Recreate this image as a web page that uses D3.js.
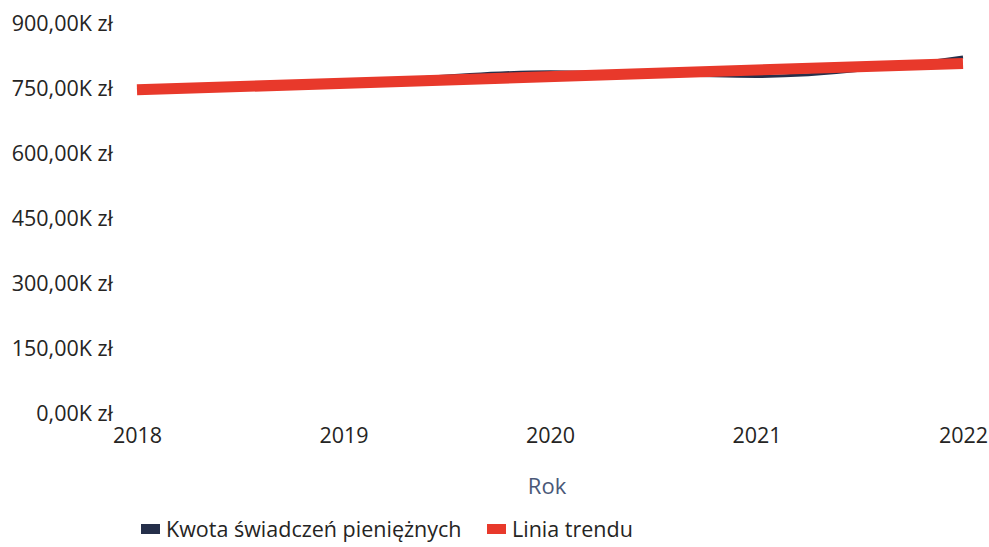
<!DOCTYPE html>
<html><head><meta charset="utf-8">
<script src="https://cdn.jsdelivr.net/npm/d3@7"></script>
<style>
html,body{margin:0;padding:0;background:#fff;}
svg{display:block;font-family:"Open Sans",sans-serif;}
</style></head>
<body>
<svg id="c" width="989" height="547"></svg>
<script>
const years = [2018, 2019, 2020, 2021, 2022];
const amounts = [748, 765, 790, 779, 824]; // thousands zł
const trendYears = [2018, 2022];
const trendValues = [748, 809];
const yTicks = [0, 150, 300, 450, 600, 750, 900];
const seriesNames = ["Kwota świadczeń pieniężnych", "Linia trendu"];
const colors = ["#252f4a", "#e8392b"];

const svg = d3.select("#c");
const x = d3.scalePoint().domain(years).range([137, 963]);
const y = d3.scaleLinear().domain([0, 900]).range([414, 24]);
const fmt = v => d3.format(".2f")(v).replace(".", ",") + "K zł";
const FS = 21.5;

// y axis
const ya = svg.append("g").attr("transform", "translate(113,0)")
  .call(d3.axisLeft(y).tickValues(yTicks).tickSize(0).tickPadding(0).tickFormat(fmt));
ya.select(".domain").remove();
ya.selectAll("text").attr("font-size", FS).attr("fill", "#252423")
  .attr("font-family", "Open Sans, sans-serif");

// x axis
const xa = svg.append("g").attr("transform", "translate(0,428)")
  .call(d3.axisBottom(x).tickSize(0).tickPadding(0));
xa.select(".domain").remove();
xa.selectAll("text").attr("font-size", FS).attr("fill", "#252423")
  .attr("font-family", "Open Sans, sans-serif");

svg.append("text").attr("x", 547).attr("y", 494).attr("text-anchor", "middle")
  .attr("font-size", 22).attr("fill", "#4a5878").text("Rok");

// lines
const line = d3.line().x(d => x(d[0])).y(d => y(d[1])).curve(d3.curveMonotoneX);
svg.append("path").datum(years.map((yr, i) => [yr, amounts[i]]))
  .attr("d", line).attr("fill", "none").attr("stroke", colors[0]).attr("stroke-width", 3);
svg.append("path").datum(trendYears.map((yr, i) => [yr, trendValues[i]]))
  .attr("d", d3.line().x(d => x(d[0])).y(d => y(d[1])))
  .attr("fill", "none").attr("stroke", colors[1]).attr("stroke-width", 11);

// legend
const lg = svg.append("g");
const legendX = [141, 487];
seriesNames.forEach((n, i) => {
  lg.append("rect").attr("x", legendX[i]).attr("y", 524).attr("width", 19).attr("height", 10).attr("fill", colors[i]);
  lg.append("text").attr("x", legendX[i] + 25).attr("y", 529).attr("dy", "0.35em")
    .attr("font-size", FS).attr("fill", "#252423").text(n);
});
</script>
</body></html>
